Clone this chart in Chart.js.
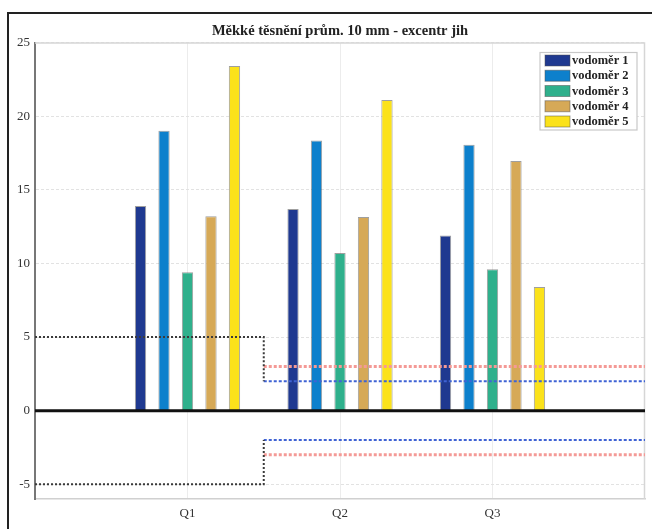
<!DOCTYPE html>
<html>
<head>
<meta charset="utf-8">
<script src="https://cdn.jsdelivr.net/npm/chart.js@4/dist/chart.umd.min.js"></script>
<style>
  html, body { margin: 0; padding: 0; background: #fff; }
  #wrap { position: relative; width: 652px; height: 529px; }
</style>
</head>
<body>
<div id="wrap"><canvas id="c" width="652" height="529"></canvas></div>
<script>
// ---- data ----
const titleText = 'Měkké těsnění prům. 10 mm - excentr jih';
const categories = ['Q1', 'Q2', 'Q3'];
const categoryPos = [1, 2, 3];
const seriesNames = ['vodoměr 1', 'vodoměr 2', 'vodoměr 3', 'vodoměr 4', 'vodoměr 5'];
const vodomer1 = [13.9, 13.7, 11.9];
const vodomer2 = [19.0, 18.35, 18.05];
const vodomer3 = [9.4, 10.7, 9.6];
const vodomer4 = [13.2, 13.15, 16.95];
const vodomer5 = [23.4, 21.1, 8.4];
const yTicks = [-5, 0, 5, 10, 15, 20, 25];
// limit step lines
const blackX = [0, 1.5, 1.5];
const blackUpper = [5, 5, 2];
const blackLower = [-5, -5, -2];
const levelX = [1.5, 4];
const blueLevel = [2, 2];
const redLevel = [3, 3];
const zeroX = [0, 4];
const zeroLine = [0, 0];

const barColors = ['#1f3990', '#0d80cc', '#2fb08c', '#d6a957', '#fbe21b'];
const seriesValues = [vodomer1, vodomer2, vodomer3, vodomer4, vodomer5];

const serif = "'Liberation Serif', 'DejaVu Serif', serif";

const barSets = seriesValues.map((vals, k) => ({
  type: 'bar',
  label: seriesNames[k],
  data: vals.map((v, i) => ({ x: categoryPos[i], y: v })),
  backgroundColor: barColors[k],
  borderColor: 'rgba(80,80,80,0.55)',
  borderWidth: 1,
  categoryPercentage: 0.77,
  barPercentage: 0.48,
  order: 2
}));

function lineSet(xs, ys, color, width, dash) {
  return {
    type: 'line',
    label: '',
    data: xs.map((x, i) => ({ x: x, y: ys[i] })),
    borderColor: color,
    borderWidth: width,
    borderDash: dash,
    pointRadius: 0,
    fill: false,
    tension: 0,
    order: 1
  };
}

const lineSets = [
  lineSet(blackX, blackUpper, '#3a3a3a', 2, [2, 2]),
  lineSet(blackX, blackLower, '#3a3a3a', 2, [2, 2]),
  lineSet(levelX, blueLevel, '#3f63d4', 2, [3, 2]),
  lineSet(levelX, blueLevel.map(v => -v), '#3f63d4', 2, [3, 2]),
  lineSet(levelX, redLevel, '#f49a96', 3, [3, 2]),
  lineSet(levelX, redLevel.map(v => -v), '#f49a96', 3, [3, 2]),
];
const zeroSet = lineSet(zeroX, zeroLine, '#111', 3, []);
zeroSet.order = 0;

const decorPlugin = {
  id: 'decor',
  beforeDatasetsDraw(chart) {
    const { ctx, chartArea: a } = chart;
    ctx.save();
    ctx.strokeStyle = '#d6d6d6';
    ctx.lineWidth = 1.5;
    ctx.beginPath();
    ctx.moveTo(a.left, a.top + 0.5);
    ctx.lineTo(a.right - 0.5, a.top + 0.5);
    ctx.lineTo(a.right - 0.5, a.bottom);
    ctx.stroke();
    ctx.restore();
  },
  afterDraw(chart) {
    const { ctx, chartArea: a } = chart;
    ctx.save();
    // outer frame
    ctx.strokeStyle = '#222';
    ctx.lineWidth = 2;
    ctx.beginPath();
    ctx.moveTo(8, 529);
    ctx.lineTo(8, 13);
    ctx.lineTo(652, 13);
    ctx.stroke();
    // title
    ctx.fillStyle = '#222';
    ctx.font = 'bold 14.5px ' + serif;
    ctx.textAlign = 'center';
    ctx.textBaseline = 'middle';
    ctx.fillText(titleText, (a.left + a.right) / 2, 31);
    // legend
    const bx = 540, by = 52.5, bw = 97, bh = 77.5;
    ctx.fillStyle = '#fff';
    ctx.fillRect(bx, by, bw, bh);
    ctx.strokeStyle = '#c8c8c8';
    ctx.lineWidth = 1.2;
    ctx.strokeRect(bx, by, bw, bh);
    ctx.font = 'bold 12.5px ' + serif;
    ctx.textAlign = 'left';
    ctx.textBaseline = 'middle';
    seriesNames.forEach((name, k) => {
      const cy = 60.5 + k * 15.25;
      ctx.fillStyle = barColors[k];
      ctx.fillRect(545, cy - 5.5, 25, 11);
      ctx.strokeStyle = 'rgba(80,80,80,0.5)';
      ctx.lineWidth = 1;
      ctx.strokeRect(545, cy - 5.5, 25, 11);
      ctx.fillStyle = '#222';
      ctx.fillText(name, 572, cy + 0.5);
    });
    ctx.restore();
  }
};

new Chart(document.getElementById('c'), {
  type: 'bar',
  data: { datasets: [...barSets, ...lineSets, zeroSet] },
  plugins: [decorPlugin],
  options: {
    responsive: false,
    animation: false,
    devicePixelRatio: 1,
    layout: { padding: { left: 0, right: 7, top: 42.5, bottom: 0 } },
    plugins: {
      legend: { display: false },
      title: { display: false },
      tooltip: { enabled: false }
    },
    scales: {
      x: {
        type: 'linear',
        min: 0,
        max: 4,
        offset: false,
        afterBuildTicks(scale) { scale.ticks = categoryPos.map(v => ({ value: v })); },
        afterFit(scale) { scale.height = 30; },
        grid: { offset: false, color: '#ececec', lineWidth: 1, drawTicks: false },
        border: { display: true, color: '#d0d0d0', width: 1.5 },
        ticks: {
          padding: 7,
          color: '#333',
          font: { family: serif, size: 13 },
          callback: (v) => categories[categoryPos.indexOf(v)] || ''
        }
      },
      y: {
        min: -6,
        max: 25,
        afterBuildTicks(scale) { scale.ticks = yTicks.map(v => ({ value: v })); },
        afterFit(scale) { scale.width = 35; },
        grid: { color: '#e2e2e2', lineWidth: 1, drawTicks: false },
        border: { display: true, color: '#777', width: 2, dash: [3, 2] },
        ticks: {
          padding: 5,
          color: '#333',
          font: { family: serif, size: 13 }
        }
      }
    }
  }
});
</script>
</body>
</html>
